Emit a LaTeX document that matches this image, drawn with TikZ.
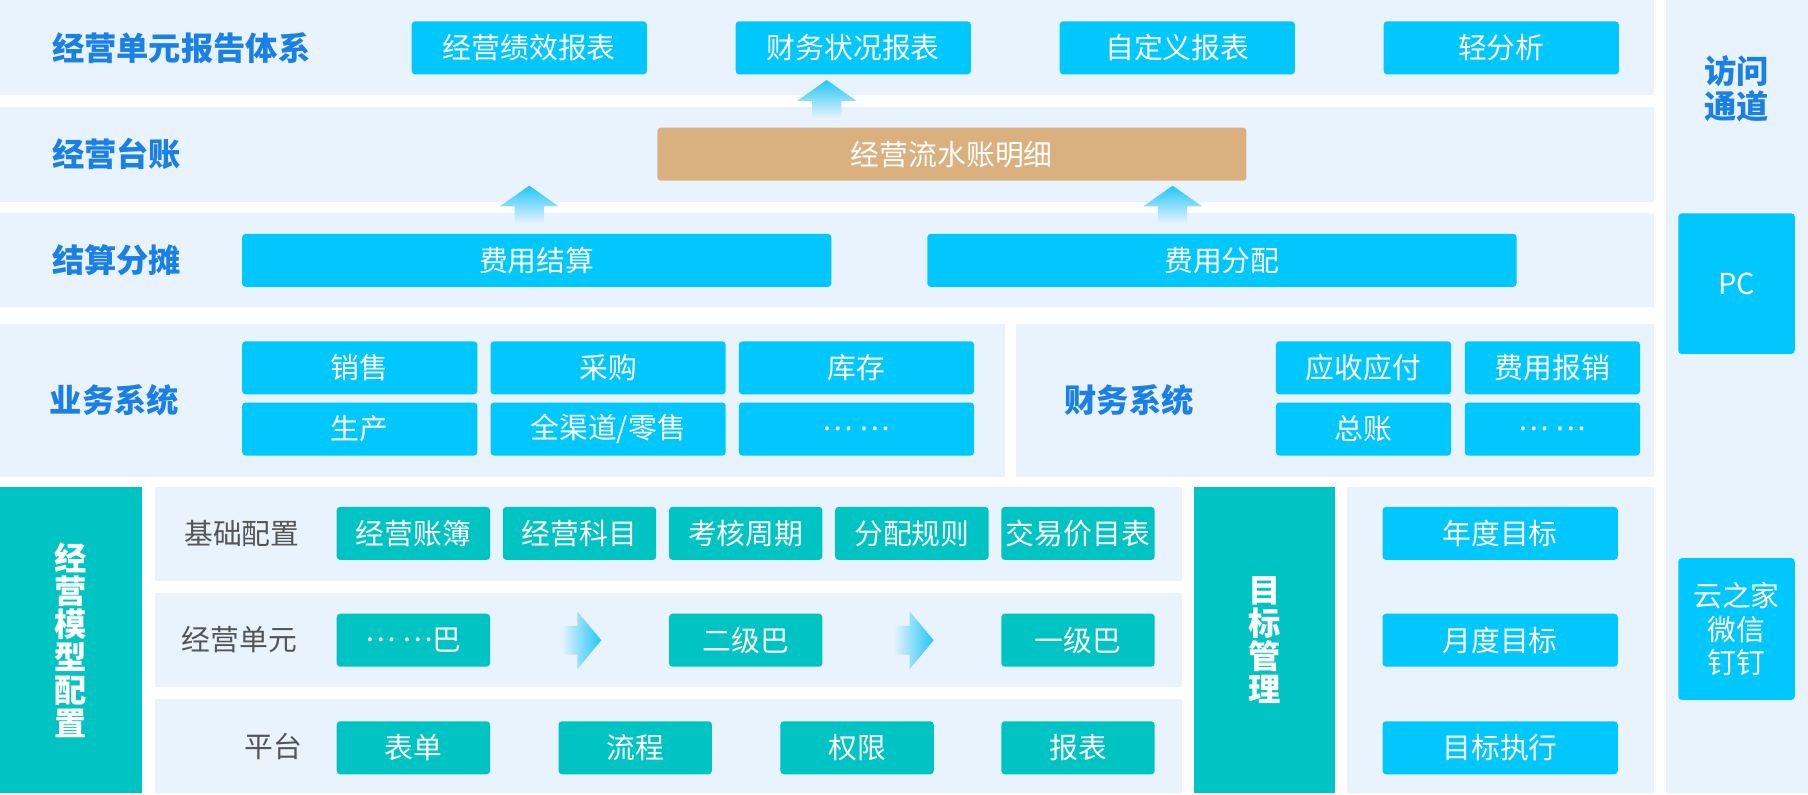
\documentclass[tikz,border=0pt]{standalone}
\usepackage{fontspec}
\setmainfont{Noto Sans CJK SC}
\usepackage{xcolor}
\usepackage{tikz}
\usetikzlibrary{shapes, arrows, positioning, calc}
\definecolor{panelbg}{HTML}{E8F3FD}
\definecolor{boxcyan}{HTML}{00C8FE}
\definecolor{boxteal}{HTML}{00C4C4}
\definecolor{boxbrown}{HTML}{D9B07E}
\definecolor{titleblue}{HTML}{1A80E5}
\definecolor{subgray}{HTML}{555555}
\definecolor{upcyan}{HTML}{22C6F6}
\tikzstyle{arch.panel} = [rectangle, fill=panelbg, draw=none, inner sep=0pt, anchor=north west]
\tikzstyle{arch.bar} = [arch.panel, fill=boxteal, text=white, align=center, font=\fontsize{28}{28.6}\selectfont\bfseries]
\tikzstyle{arch.box} = [rectangle, rounded corners=3pt, fill=boxcyan, draw=none, text=white, inner sep=0pt, minimum height=46pt, font=\fontsize{25}{29}\selectfont]
\tikzstyle{arch.teal} = [arch.box, fill=boxteal, minimum width=133pt]
\tikzstyle{arch.title} = [anchor=west, inner sep=0pt, text=titleblue, font=\fontsize{28}{31}\selectfont\bfseries]
\tikzstyle{arch.sub} = [anchor=east, inner sep=0pt, text=subgray, font=\fontsize{25}{29}\selectfont]
\tikzstyle{arch.up} = [top color=upcyan, middle color=upcyan!55!panelbg, bottom color=panelbg]
\tikzstyle{arch.right} = [left color=panelbg, right color=upcyan]

\begin{document}
\begin{tikzpicture}[x=1pt, y=-1pt, node distance=11pt]
\useasboundingbox (0,0) rectangle (1568,689);

\node[arch.panel, minimum width=1434pt, minimum height=82.5pt] (report) at (0,0) {};
\node[arch.panel, minimum width=1434pt, minimum height=82.2pt] (ledger) at (0,92.8) {};
\node[arch.panel, minimum width=1434pt, minimum height=81.5pt] (settle) at (0,184.7) {};
\node[arch.panel, minimum width=871pt, minimum height=132.4pt] (biz) at (0,281) {};
\node[arch.panel, minimum width=553pt, minimum height=132.4pt] (fin) at (881,281) {};
\node[arch.bar, minimum width=122.8pt, minimum height=265.5pt] (modelbar) at (0,422) {经\\营\\模\\型\\配\\置};
\node[arch.panel, minimum width=890.6pt, minimum height=81.6pt] (base) at (134,422) {};
\node[arch.panel, minimum width=890.6pt, minimum height=81.6pt] (unit) at (134,514) {};
\node[arch.panel, minimum width=890.6pt, minimum height=81.5pt] (plat) at (134,606) {};
\node[arch.bar, minimum width=123pt, minimum height=265.5pt] (goalbar) at (1035,422) {目\\标\\管\\理};
\node[arch.panel, minimum width=266pt, minimum height=265.5pt] (goal) at (1168,422) {};
\node[arch.panel, minimum width=123.5pt, minimum height=687.5pt] (access) at (1444.5,0) {};

\node[arch.title] (t_report) at (45,41.5) {经营单元报告体系};
\node[arch.title] (t_ledger) at (45,133.7) {经营台账};
\node[arch.title] (t_settle) at (45,225.8) {结算分摊};
\node[arch.title] (t_biz) at (43,347) {业务系统};
\node[arch.title] (t_fin) at (923,347) {财务系统};
\node[arch.title, anchor=center, align=center] (t_access) at (1506,77) {访问\\通道};
\node[arch.sub] (t_base) at (260,462.6) {基础配置};
\node[arch.sub] (t_unit) at (258,554.8) {经营单元};
\node[arch.sub] (t_plat) at (262.5,647.3) {平台};

\node[arch.box, minimum width=204pt] (rep1) at (459,41.5) {经营绩效报表};
\node[arch.box, minimum width=204pt, right=76.6pt of rep1] (rep2) {财务状况报表};
\node[arch.box, minimum width=204pt, right=76.6pt of rep2] (rep3) {自定义报表};
\node[arch.box, minimum width=204pt, right=76.6pt of rep3] (rep4) {轻分析};

\node[arch.box, fill=boxbrown, minimum width=511pt] (flow) at (825.5,133.7) {经营流水账明细};

\node[arch.box, minimum width=511pt] (settle1) at (465.5,225.8) {费用结算};
\node[arch.box, minimum width=511pt, right=82.8pt of settle1] (settle2) {费用分配};

\node[arch.box, minimum width=204pt] (biz1) at (312,319) {销售};
\node[arch.box, minimum width=204pt, right=of biz1] (biz2) {采购};
\node[arch.box, minimum width=204pt, right=of biz2] (biz3) {库存};
\node[arch.box, minimum width=204pt, below=6.7pt of biz1] (biz4) {生产};
\node[arch.box, minimum width=204pt, below=6.7pt of biz2] (biz5) {全渠道/零售};
\node[arch.box, minimum width=204pt, below=6.7pt of biz3] (biz6) {… …};

\node[arch.box, minimum width=152pt] (fin1) at (1182.5,319) {应收应付};
\node[arch.box, minimum width=152pt, right=11.4pt of fin1] (fin2) {费用报销};
\node[arch.box, minimum width=152pt, below=6.7pt of fin1] (fin3) {总账};
\node[arch.box, minimum width=152pt, below=6.7pt of fin2] (fin4) {… …};

\node[arch.teal] (base1) at (358.5,462.6) {经营账簿};
\node[arch.teal, right=10.7pt of base1] (base2) {经营科目};
\node[arch.teal, right=10.7pt of base2] (base3) {考核周期};
\node[arch.teal, right=10.7pt of base3] (base4) {分配规则};
\node[arch.teal, right=10.7pt of base4] (base5) {交易价目表};

\node[arch.teal, below=46.2pt of base1] (unit1) {\raisebox{0.32em}{… …}巴};
\node[arch.teal, below=46.2pt of base3] (unit2) {二级巴};
\node[arch.teal, below=46.2pt of base5] (unit3) {一级巴};

\node[arch.teal, below=46.9pt of unit1] (plat1) {表单};
\node[arch.teal, right=59pt of plat1] (plat2) {流程};
\node[arch.teal, right=59pt of plat2] (plat3) {权限};
\node[arch.teal, below=46.9pt of unit3] (plat4) {报表};

\node[arch.box, minimum width=204pt] (goal1) at (1301,462.6) {年度目标};
\node[arch.box, minimum width=204pt, below=46.2pt of goal1] (goal2) {月度目标};
\node[arch.box, minimum width=204pt, below=46.9pt of goal2] (goal3) {目标执行};

\node[arch.box, minimum width=101pt, minimum height=122pt] (pc) at (1506,246) {PC};
\node[arch.box, minimum width=101pt, minimum height=123pt, align=center, font=\fontsize{25}{29}\selectfont] (yun) at (1506,545.5) {云之家\\微信\\钉钉};

\foreach \ax/\ay in {717/69.4, 459/161, 1017/161}
  \shade[arch.up] (\ax,\ay) -- ++(25.6,18) -- ++(-13,0) -- ++(0,15) -- ++(-25.2,0) -- ++(0,-15) -- ++(-13,0) -- cycle;
\foreach \a/\b in {unit1/unit2, unit2/unit3}
  \shade[arch.right] ($(\a.east)!0.5!(\b.west)+(-16,-12.5)$) -- ++(14.1,0) -- ++(0,-12.3) -- ++(20.8,24.8) -- ++(-20.8,25.1) -- ++(0,-12.6) -- ++(-14.1,0) -- cycle;
\end{tikzpicture}
\end{document}
